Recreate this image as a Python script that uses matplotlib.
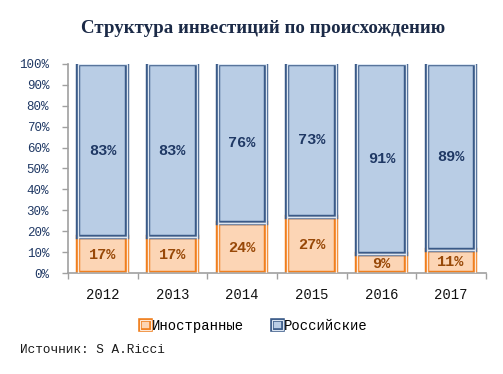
#!/usr/bin/env python3
"""Investment structure by origin: 100% stacked bars."""

import matplotlib
matplotlib.use('Agg')
import matplotlib.pyplot as plt
from matplotlib.legend_handler import HandlerTuple
from matplotlib.patches import Rectangle
import numpy as np

YEARS = ['2012', '2013', '2014', '2015', '2016', '2017']
FOREIGN = [17, 17, 24, 27, 9, 11]
RUSSIAN = [83, 83, 76, 73, 91, 89]
SERIES_LABELS = ['Иностранные', 'Российские']
TITLE = 'Структура инвестиций по происхождению'
SOURCE = 'Источник: S A.Ricci'

MONO = 'Liberation Mono'
AXIS_GREY = '#A0A0A0'
NAVY = '#1F3864'

OR_FILL, OR_EDGE, OR_INNER = '#FCD5B5', '#F07F1E', '#FDE9D9'
BL_FILL, BL_EDGE, BL_INNER = '#B9CDE5', '#3A5A88', '#DCE6F2'

fig = plt.figure(figsize=(5.03, 3.74), dpi=100)
ax = fig.add_axes([0.135, 0.270, 0.831, 0.559])

x = np.arange(len(YEARS))
w = 0.70
foreign = np.array(FOREIGN) / 100
russian = np.array(RUSSIAN) / 100


def double_bar(bottom, height, fill, edge, inner):
    ax.bar(x, height, w, bottom=bottom, color=fill, edgecolor=edge, linewidth=3.2, zorder=2)
    ax.bar(x, height, w, bottom=bottom, color='none', edgecolor=inner, linewidth=1.0, zorder=3)


double_bar(0, foreign, OR_FILL, OR_EDGE, OR_INNER)
double_bar(foreign, russian, BL_FILL, BL_EDGE, BL_INNER)

# Value labels
for i in range(len(YEARS)):
    ax.text(x[i], foreign[i] / 2, f'{FOREIGN[i]}%', ha='center', va='center',
            fontsize=11, fontweight='bold', family=MONO, color='#984807', zorder=4)
    ax.text(x[i], foreign[i] + russian[i] / 2, f'{RUSSIAN[i]}%', ha='center', va='center',
            fontsize=11, fontweight='bold', family=MONO, color=NAVY, zorder=4)

ax.set_xlim(-0.5, len(YEARS) - 0.5)
ax.set_ylim(0, 1)
ax.set_yticks(np.arange(0, 1.01, 0.1))
ax.set_yticklabels([f'{v}%' for v in range(0, 101, 10)], family=MONO, fontsize=9, color=NAVY)
ax.set_xticks(x)
ax.set_xticklabels(YEARS, family=MONO, fontsize=10, color='#111111')
ax.set_xticks(np.arange(-0.5, len(YEARS)), minor=True)
ax.tick_params(axis='x', which='major', length=0, pad=11)
ax.tick_params(axis='x', which='minor', length=4.5, color=AXIS_GREY, width=1)
ax.tick_params(axis='y', length=4.5, color=AXIS_GREY, width=1, pad=9)

for side in ['top', 'right']:
    ax.spines[side].set_visible(False)
for side in ['left', 'bottom']:
    ax.spines[side].set_color(AXIS_GREY)
    ax.spines[side].set_linewidth(1.2)

fig.text(0.523, 0.925, TITLE, ha='center', va='center', fontsize=13.6,
         fontweight='bold', family='Liberation Serif', color='#1B2A47')

# Legend with double-border squares
h_or = (Rectangle((0, 0), 1, 1, fc=OR_FILL, ec=OR_EDGE, lw=2.6),
        Rectangle((0, 0), 1, 1, fc='none', ec=OR_INNER, lw=0.8))
h_bl = (Rectangle((0, 0), 1, 1, fc=BL_FILL, ec=BL_EDGE, lw=2.6),
        Rectangle((0, 0), 1, 1, fc='none', ec=BL_INNER, lw=0.8))
fig.legend([h_or, h_bl], SERIES_LABELS, loc='center', bbox_to_anchor=(0.505, 0.128),
           ncol=2, frameon=False, handler_map={tuple: HandlerTuple(ndivide=1)},
           handlelength=0.75, handleheight=0.75, handletextpad=0.1, columnspacing=2.0,
           prop={'family': MONO, 'size': 10})

fig.text(0.040, 0.063, SOURCE, ha='left', va='center', fontsize=9.2, family=MONO, color='#1A1A1A')

fig.savefig('out.png', dpi=100)
plt.close(fig)
